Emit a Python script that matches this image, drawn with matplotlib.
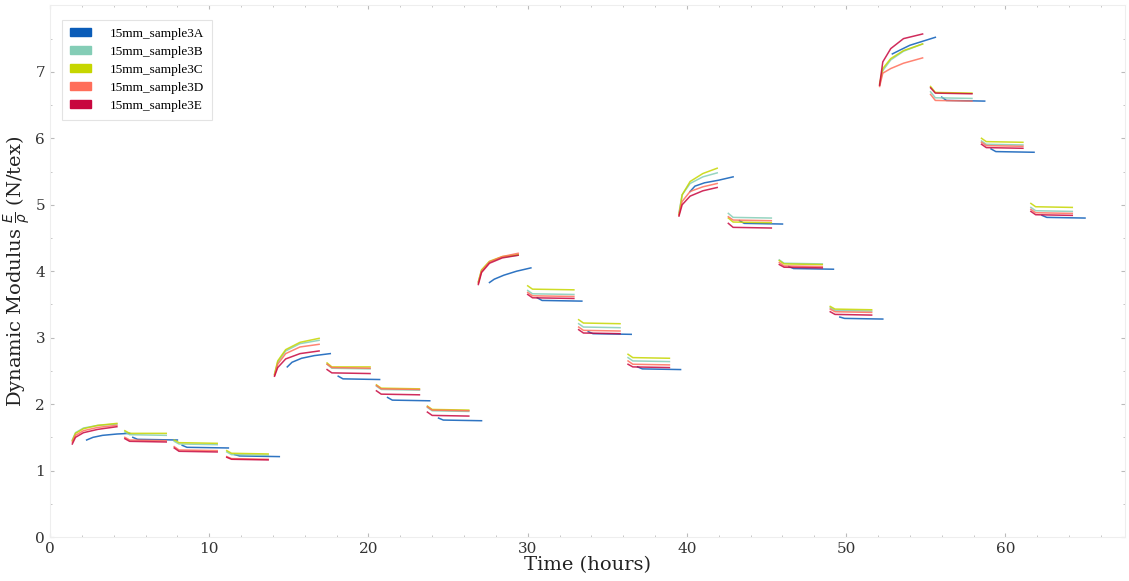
import matplotlib.pyplot as plt
from matplotlib.patches import Patch

labels = ["15mm_sample3A", "15mm_sample3B", "15mm_sample3C", "15mm_sample3D", "15mm_sample3E"]
colors = ["#0a5cb8", "#84cdb6", "#c6d600", "#ff6e5a", "#c8073f"]

# time points (hours) of each test segment, shared by samples B-E
t_BE = [
    [1.4, 1.6, 2.1, 3.0, 4.2], [4.7, 5.0, 7.3], [7.8, 8.1, 10.5], [11.1, 11.4, 13.7],
    [14.1, 14.3, 14.8, 15.7, 16.9], [17.4, 17.7, 20.1], [20.5, 20.8, 23.2], [23.7, 24.0, 26.3],
    [26.9, 27.1, 27.6, 28.4, 29.4], [30.0, 30.3, 32.9], [33.2, 33.5, 35.8], [36.3, 36.6, 38.9],
    [39.5, 39.7, 40.2, 41.0, 41.9], [42.6, 42.9, 45.3], [45.8, 46.1, 48.5], [49.0, 49.3, 51.6],
    [52.1, 52.3, 52.8, 53.6, 54.8], [55.3, 55.6, 57.9], [58.5, 58.8, 61.1], [61.6, 61.9, 64.2],
]
# sample A was started a bit later in each segment
t_A = [
    [2.3, 2.7, 3.3, 4.2, 5.0], [5.2, 5.5, 8.0], [8.3, 8.6, 11.2], [11.6, 11.9, 14.4],
    [14.9, 15.2, 15.8, 16.6, 17.6], [18.1, 18.4, 20.7], [21.2, 21.5, 23.85], [24.4, 24.7, 27.1],
    [27.6, 27.9, 28.5, 29.3, 30.2], [30.6, 30.9, 33.4], [33.8, 34.1, 36.5], [36.9, 37.2, 39.6],
    [40.2, 40.5, 41.1, 42.0, 42.9], [43.3, 43.6, 46.0], [46.4, 46.7, 49.2], [49.6, 49.9, 52.3],
    [52.9, 53.4, 54.0, 54.8, 55.6], [56.0, 56.3, 58.7], [59.1, 59.4, 61.8], [62.3, 62.6, 65.0],
]

# dynamic modulus E/rho (N/tex)
mod_A = [
    [1.46, 1.50, 1.53, 1.55, 1.56], [1.50, 1.47, 1.46], [1.38, 1.35, 1.34], [1.24, 1.22, 1.21],
    [2.56, 2.63, 2.69, 2.73, 2.76], [2.42, 2.38, 2.37], [2.10, 2.06, 2.05], [1.79, 1.76, 1.75],
    [3.83, 3.88, 3.94, 4.00, 4.05], [3.60, 3.56, 3.55], [3.09, 3.06, 3.05], [2.56, 2.53, 2.52],
    [5.20, 5.28, 5.33, 5.37, 5.42], [4.76, 4.72, 4.71], [4.07, 4.04, 4.03], [3.31, 3.29, 3.28],
    [7.27, 7.33, 7.40, 7.46, 7.52], [6.62, 6.57, 6.56], [5.84, 5.80, 5.79], [4.84, 4.81, 4.80],
]
mod_B = [
    [1.46, 1.57, 1.64, 1.68, 1.70], [1.58, 1.54, 1.53], [1.44, 1.40, 1.39], [1.28, 1.24, 1.23],
    [2.45, 2.63, 2.80, 2.91, 2.96], [2.60, 2.54, 2.53], [2.27, 2.22, 2.21], [1.95, 1.90, 1.89],
    [3.84, 4.01, 4.14, 4.21, 4.24], [3.71, 3.66, 3.65], [3.21, 3.16, 3.15], [2.70, 2.65, 2.64],
    [4.88, 5.15, 5.32, 5.42, 5.48], [4.87, 4.81, 4.80], [4.17, 4.12, 4.11], [3.45, 3.41, 3.40],
    [6.80, 7.02, 7.18, 7.31, 7.42], [6.70, 6.61, 6.60], [5.96, 5.91, 5.90], [4.96, 4.91, 4.90],
]
mod_C = [
    [1.45, 1.56, 1.63, 1.68, 1.71], [1.60, 1.56, 1.56], [1.46, 1.42, 1.41], [1.30, 1.26, 1.25],
    [2.45, 2.65, 2.82, 2.93, 2.99], [2.62, 2.56, 2.56], [2.29, 2.24, 2.23], [1.97, 1.92, 1.91],
    [3.84, 4.02, 4.15, 4.22, 4.25], [3.78, 3.73, 3.72], [3.27, 3.22, 3.21], [2.75, 2.70, 2.69],
    [4.85, 5.15, 5.35, 5.47, 5.55], [4.80, 4.74, 4.73], [4.16, 4.11, 4.10], [3.47, 3.43, 3.42],
    [6.82, 7.05, 7.20, 7.32, 7.42], [6.78, 6.69, 6.68], [6.00, 5.95, 5.94], [5.02, 4.97, 4.96],
]
mod_D = [
    [1.43, 1.53, 1.60, 1.65, 1.68], [1.50, 1.46, 1.45], [1.36, 1.31, 1.30], [1.21, 1.18, 1.17],
    [2.43, 2.60, 2.76, 2.86, 2.90], [2.60, 2.55, 2.54], [2.28, 2.23, 2.22], [1.96, 1.91, 1.90],
    [3.82, 4.00, 4.14, 4.22, 4.27], [3.68, 3.63, 3.62], [3.16, 3.11, 3.10], [2.65, 2.60, 2.59],
    [4.85, 5.05, 5.20, 5.27, 5.32], [4.82, 4.77, 4.76], [4.13, 4.08, 4.07], [3.43, 3.39, 3.38],
    [6.78, 6.98, 7.05, 7.13, 7.21], [6.66, 6.57, 6.56], [5.94, 5.89, 5.88], [4.93, 4.88, 4.87],
]
mod_E = [
    [1.40, 1.50, 1.57, 1.62, 1.66], [1.48, 1.44, 1.43], [1.34, 1.29, 1.28], [1.20, 1.17, 1.16],
    [2.42, 2.55, 2.68, 2.76, 2.80], [2.52, 2.47, 2.46], [2.20, 2.15, 2.14], [1.88, 1.83, 1.82],
    [3.80, 3.98, 4.12, 4.20, 4.24], [3.65, 3.60, 3.59], [3.12, 3.07, 3.06], [2.60, 2.56, 2.55],
    [4.83, 5.00, 5.13, 5.21, 5.26], [4.72, 4.66, 4.65], [4.10, 4.06, 4.05], [3.39, 3.35, 3.34],
    [6.80, 7.15, 7.35, 7.50, 7.57], [6.76, 6.68, 6.67], [5.91, 5.86, 5.85], [4.90, 4.85, 4.84],
]

series = [(t_A, mod_A), (t_BE, mod_B), (t_BE, mod_C), (t_BE, mod_D), (t_BE, mod_E)]

fig = plt.figure(figsize=(11.29, 5.81), dpi=100)
ax = fig.add_axes([0.0443, 0.0757, 0.952, 0.915])

for (times, mods), col in zip(series, colors):
    for tt, mm in zip(times, mods):
        ax.plot(tt, mm, color=col, lw=1.1, alpha=0.85)

ax.set_xlim(0, 67.5)
ax.set_ylim(0, 8)
ax.set_xticks([0, 10, 20, 30, 40, 50, 60])
ax.set_yticks([0, 1, 2, 3, 4, 5, 6, 7])
ax.set_xticks(range(0, 68, 2), minor=True)
ax.set_yticks([0.5 * i for i in range(16)], minor=True)
ax.tick_params(which="both", direction="in", top=True, right=True, colors="#bbbbbb",
               labelcolor="#333333", labelsize=11)
ax.tick_params(which="major", length=3)
ax.tick_params(which="minor", length=1.5)
for lab in ax.get_xticklabels() + ax.get_yticklabels():
    lab.set_family("DejaVu Serif")
for sp in ax.spines.values():
    sp.set_color("#eeeeee")
    sp.set_linewidth(0.8)

ax.set_xlabel("Time (hours)", family="DejaVu Serif", fontsize=14, color="#222222", labelpad=0)
ax.set_ylabel(r"Dynamic Modulus $\frac{E}{\rho}$ (N/tex)", family="DejaVu Serif",
              fontsize=14, color="#222222", labelpad=2)

handles = [Patch(facecolor=c, edgecolor=c) for c in colors]
leg = ax.legend(handles, labels, loc="upper left", bbox_to_anchor=(0.005, 0.985),
                prop={"family": "Liberation Serif", "size": 9.5}, frameon=True,
                fancybox=False, handlelength=1.6, handleheight=0.6, labelspacing=0.45,
                borderpad=0.6, handletextpad=1.4)
leg.get_frame().set_edgecolor("#dddddd")
leg.get_frame().set_linewidth(0.8)

plt.savefig("out.png", dpi=100)
